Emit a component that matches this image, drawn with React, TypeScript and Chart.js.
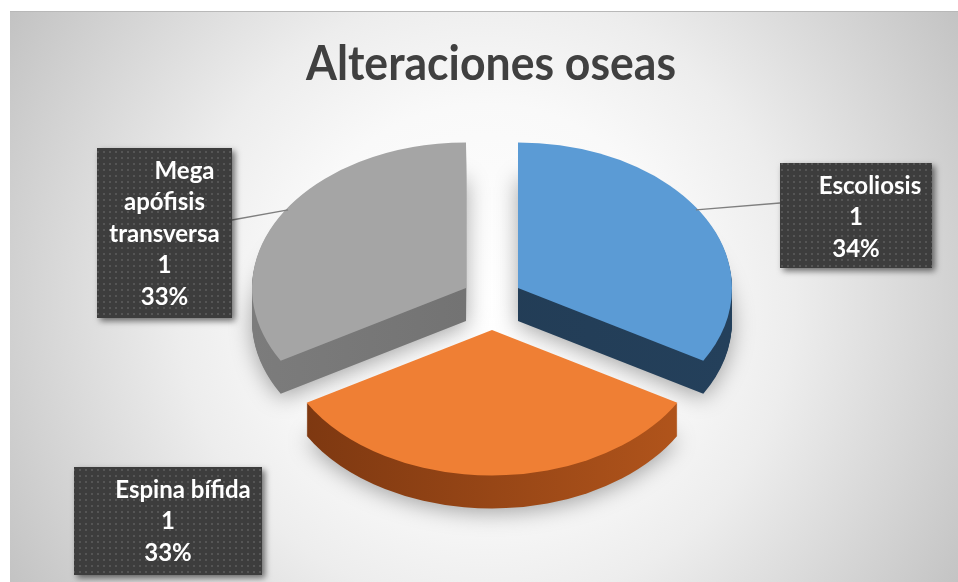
import React, { useEffect, useRef } from "react";
import { Chart, registerables } from "chart.js";

Chart.register(...registerables);

const TITLE = "Alteraciones oseas";
const categories = ["Escoliosis", "Espina bífida", "Mega apófisis transversa"];
const values = [1, 1, 1];
const percentLabels = ["34%", "33%", "33%"];
// label text as it wraps inside each data label box
const categoryLines = [["Escoliosis"], ["Espina bífida"], ["Mega", "apófisis", "transversa"]];

const topColors = ["#5b9bd5", "#ef7f34", "#a5a5a5"];
const sideColors = [
  ["#213a52", "#24405b"],
  ["#7a3610", "#b4561c"],
  ["#7c7c7c", "#6a6a6a"],
];

// label box layout relative to the pie centre (px)
const labelLayout = [
  { dx: 288, dy: -139, w: 152, h: 105, firstShift: 14, leader: "left", leaderY: 40 },
  { dx: -418, dy: 165, w: 188, h: 108, firstShift: 15, leader: "none", leaderY: 0 },
  { dx: -395, dy: -154, w: 135, h: 170, firstShift: 20, leader: "right", leaderY: 72 },
];

const K = 0.68; // vertical squash
const KE = 0.93; // vertical explode factor
const DEPTH = 33;

function makePattern(ctx: CanvasRenderingContext2D) {
  const c = document.createElement("canvas");
  c.width = 6;
  c.height = 6;
  const p = c.getContext("2d")!;
  p.fillStyle = "#3d3d3d";
  p.fillRect(0, 0, 6, 6);
  p.fillStyle = "#555555";
  p.fillRect(1, 1, 2, 2);
  return ctx.createPattern(c, "repeat");
}

const pie3d = {
  id: "pie3d",
  beforeDraw(chart: any) {
    const ctx: CanvasRenderingContext2D = chart.ctx;
    const W = chart.width;
    const H = chart.height;
    ctx.save();
    ctx.fillStyle = "#ffffff";
    ctx.fillRect(0, 0, W, H);
    const g = ctx.createRadialGradient(486, 300, 0, 486, 300, 560);
    g.addColorStop(0, "#ffffff");
    g.addColorStop(0.35, "#f9f9f9");
    g.addColorStop(0.55, "#ededed");
    g.addColorStop(1, "#c2c2c2");
    ctx.fillStyle = g;
    ctx.fillRect(10, 11, W - 10, H - 11);
    ctx.strokeStyle = "#b8b8b8";
    ctx.lineWidth = 1;
    ctx.beginPath();
    ctx.moveTo(10, 11.5);
    ctx.lineTo(W, 11.5);
    ctx.stroke();
    ctx.restore();
  },
  beforeDatasetsDraw(chart: any) {
    const ctx: CanvasRenderingContext2D = chart.ctx;
    const meta = chart.getDatasetMeta(0);
    const items = meta.data.map((arc: any, i: number) => {
      const p = arc.getProps(["x", "y", "startAngle", "endAngle", "outerRadius"], true);
      const mid = (p.startAngle + p.endAngle) / 2;
      const off = arc.options.offset || 0;
      return {
        i,
        ...p,
        mid,
        cx: p.x + Math.cos(mid) * off,
        cy: p.y + Math.sin(mid) * off * KE,
      };
    });
    items.sort((a: any, b: any) => Math.sin(a.mid) - Math.sin(b.mid));
    for (const it of items) {
      const r = it.outerRadius;
      const path = (oy: number) => {
        ctx.beginPath();
        ctx.moveTo(it.cx, it.cy + oy);
        ctx.ellipse(it.cx, it.cy + oy, r, r * K, 0, it.startAngle, it.endAngle);
        ctx.closePath();
      };
      const sg = ctx.createLinearGradient(it.cx - r, 0, it.cx + r, 0);
      sg.addColorStop(0, sideColors[it.i][0]);
      sg.addColorStop(1, sideColors[it.i][1]);
      for (let t = DEPTH; t >= 1; t--) {
        ctx.save();
        if (t === DEPTH) {
          ctx.shadowColor = "rgba(0,0,0,0.35)";
          ctx.shadowBlur = 22;
          ctx.shadowOffsetY = 4;
        }
        ctx.fillStyle = sg;
        path(t);
        ctx.fill();
        ctx.restore();
      }
      ctx.save();
      ctx.fillStyle = topColors[it.i];
      path(0);
      ctx.fill();
      ctx.restore();
    }
    return false;
  },
  afterDraw(chart: any) {
    const ctx: CanvasRenderingContext2D = chart.ctx;
    const meta = chart.getDatasetMeta(0);
    const first = meta.data[0];
    const CX = first.x;
    const CY = first.y;
    // title
    ctx.save();
    ctx.fillStyle = "#404040";
    ctx.font = "bold 47px Lato";
    ctx.textAlign = "center";
    ctx.textBaseline = "alphabetic";
    ctx.fillText(TITLE, CX - 1, 80, 370);
    ctx.restore();

    const pattern = makePattern(ctx);
    meta.data.forEach((arc: any, i: number) => {
      const L = labelLayout[i];
      const bx = CX + L.dx;
      const by = CY + L.dy;
      const mid = (arc.startAngle + arc.endAngle) / 2;
      const off = arc.options.offset || 0;
      const vx = arc.x + Math.cos(mid) * off;
      const vy = arc.y + Math.sin(mid) * off * KE;
      const r = arc.outerRadius * 0.99;
      // leader line
      if (L.leader !== "none") {
        const ax = vx + Math.cos(mid + (L.leader === "left" ? -0.05 : 0.05)) * r;
        const ay = vy + Math.sin(mid + (L.leader === "left" ? -0.05 : 0.05)) * r * K;
        const ex = L.leader === "left" ? bx : bx + L.w;
        ctx.save();
        ctx.strokeStyle = "#7f7f7f";
        ctx.lineWidth = 1.3;
        ctx.beginPath();
        ctx.moveTo(ax, ay);
        ctx.lineTo(ex, by + L.leaderY);
        ctx.stroke();
        ctx.restore();
      }
      // box
      ctx.save();
      ctx.shadowColor = "rgba(0,0,0,0.55)";
      ctx.shadowBlur = 6;
      ctx.shadowOffsetX = 3;
      ctx.shadowOffsetY = 3;
      ctx.fillStyle = pattern || "#404040";
      ctx.fillRect(bx, by, L.w, L.h);
      ctx.restore();
      // text
      const lines = [...categoryLines[i], String(values[i]), percentLabels[i]];
      ctx.save();
      ctx.fillStyle = "#ffffff";
      ctx.font = "bold 24px Lato";
      ctx.textAlign = "center";
      ctx.textBaseline = "middle";
      lines.forEach((ln, j) => {
        const x = bx + L.w / 2 + (j === 0 ? L.firstShift : 0);
        const y = by + 23 + j * 31.5;
        ctx.fillText(ln, x, y, L.w - 8);
      });
      ctx.restore();
    });
  },
};

export default function App() {
  const ref = useRef<HTMLCanvasElement | null>(null);
  useEffect(() => {
    if (!ref.current) return;
    const chart = new Chart(ref.current, {
      type: "pie",
      data: {
        labels: categories,
        datasets: [
          {
            data: values,
            backgroundColor: topColors,
            borderWidth: 0,
            offset: 30,
          },
        ],
      },
      options: {
        responsive: false,
        animation: false,
        events: [],
        layout: { padding: { left: 263, right: 237, top: 73, bottom: 51 } },
        plugins: {
          legend: { display: false },
          tooltip: { enabled: false },
          title: { display: false },
        },
      },
      plugins: [pie3d as any],
    });
    return () => chart.destroy();
  }, []);
  return (
    <div style={{ position: "absolute", left: 0, top: 0, width: 958, height: 582 }}>
      <canvas ref={ref} width={958} height={582} style={{ display: "block" }} />
    </div>
  );
}
